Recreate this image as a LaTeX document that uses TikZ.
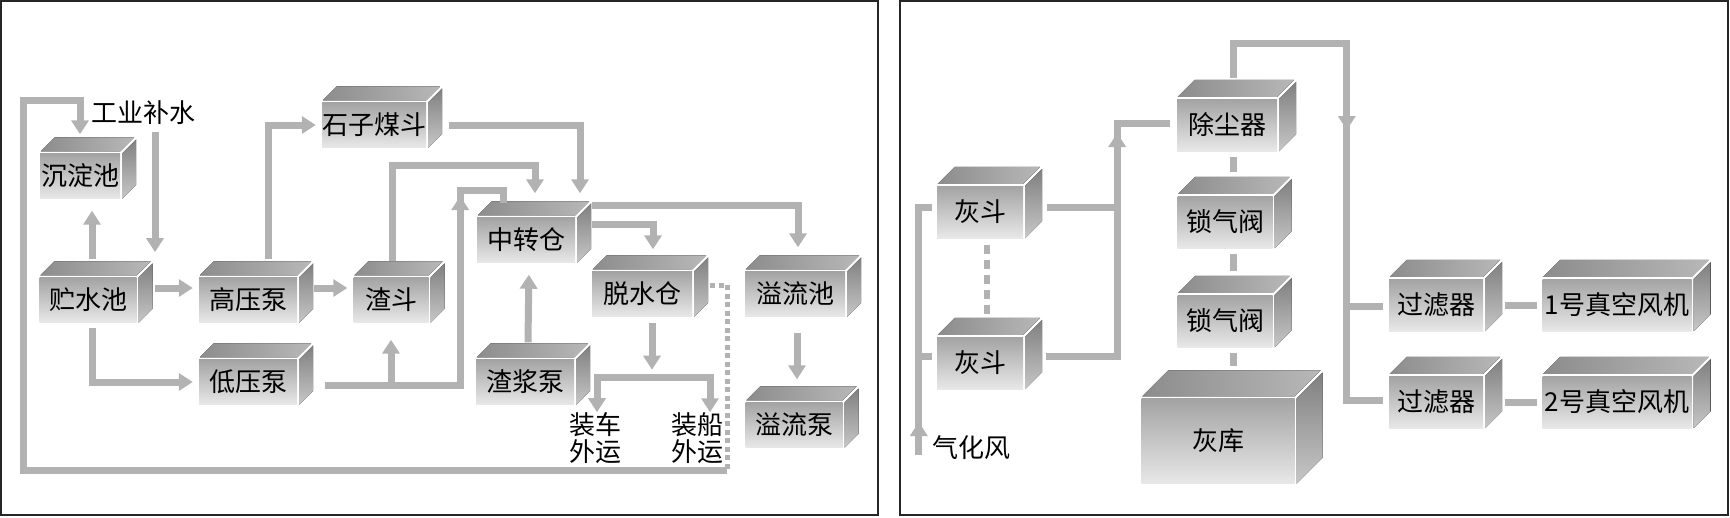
\documentclass[tikz,border=0pt]{standalone}
\usepackage{fontspec}
\newfontfamily\cjk{Noto Sans CJK SC}
\usetikzlibrary{arrows.meta, positioning}

% top and side faces of a box node
\newcommand\unitfaces[2]{%
  \fill[topface] ([shift={(1,-2)}]#1.north west) -- ++(#2,-#2)
    -- ([shift={(#2,-#2-2)}]#1.north east) -- ([shift={(0,-2)}]#1.north east) -- cycle;
  \fill[sideface] ([shift={(2,0)}]#1.north east) -- ++(#2,-#2)
    -- ([shift={(#2+2,-#2)}]#1.south east) -- ([shift={(2,0)}]#1.south east) -- cycle;
}

\begin{document}
\begin{tikzpicture}[x=1pt, y=-1pt,
    unit/.style={minimum width=#1, minimum height=45pt, inner sep=0pt,
      font=\cjk\fontsize{26}{28}\selectfont, top color=black!36, bottom color=black!9},
    unit/.default=98pt,
    tall/.style={minimum height=52pt},
    lbl/.style={inner sep=0pt, align=center, font=\cjk\fontsize{26}{27}\selectfont},
    topface/.style={left color=black!45, right color=black!28},
    sideface/.style={top color=black!50, bottom color=black!22},
    flow/.style={draw=black!30, line width=7pt},
    flowtip/.style={flow, -{Triangle[width=17pt, length=14pt]}},
    dashflow/.style={draw=black!30, line width=6pt, dash pattern=on 9pt off 6pt},
    drain/.style={draw=black!30, line width=5pt, dash pattern=on 5pt off 3.5pt}]
    \useasboundingbox (0,0) rectangle (1730,517);
    \draw[line width=2pt, black!85] (1,1) rectangle (878,515);
    \draw[line width=2pt, black!85] (900,1) rectangle (1728,515);

    % Left: nodes
    \node[unit=80pt] (cdc) at (80,176) {沉淀池};
    \node[unit=97pt] (csc) at (88,300) {贮水池};
    \node[unit] (gyb) at (248,300) {高压泵};
    \node[unit=75pt] (zd) at (391,300) {渣斗};
    \node[unit] (dyb) at (248,382) {低压泵};
    \node[unit=97pt] (szmd) at (374,125) {石子煤斗};
    \node[unit] (zzc) at (526,240) {中转仓};
    \node[unit] (zjb) at (525,382) {渣浆泵};
    \node[unit=100pt] (tsc) at (642,294) {脱水仓};
    \node[unit=100pt] (ylc) at (795,294) {溢流池};
    \node[unit=97pt] (ylb) at (794,425) {溢流泵};
    \node[lbl] (gybs) at (143,113) {工业补水};
    \node[lbl] (zcwy) at (595,438) {装车\\外运};
    \node[lbl] (zcwy2) at (697,438) {装船\\外运};

    % Right: nodes
    \node[unit=86pt, tall] (hd1) at (980,212) {灰斗};
    \node[unit=86pt, tall] (hd2) at (980,363) {灰斗};
    \node[unit=100pt, tall] (ccq) at (1227,125) {除尘器};
    \node[unit=95pt, tall] (sqf1) at (1225,222) {锁气阀};
    \node[unit=95pt, tall] (sqf2) at (1225,321) {锁气阀};
    \node[unit=153pt, minimum height=85pt] (hk) at (1218,441) {灰库};
    \node[unit=94pt, tall] (glq1) at (1436,305) {过滤器};
    \node[unit=94pt, tall] (glq2) at (1436,402) {过滤器};
    \node[unit=149pt, tall] (fj1) at (1617,305) {1号真空风机};
    \node[unit=149pt, tall] (fj2) at (1617,402) {2号真空风机};
    \node[lbl] (qhf) at (971,448) {气化风};

    \foreach \n in {cdc, csc, gyb, zd, dyb, szmd, zzc, zjb, tsc, ylc, ylb}
      {\unitfaces{\n}{14}}
    \foreach \n in {hd1, hd2, ccq, sqf1, sqf2, glq1, glq2, fj1, fj2}
      {\unitfaces{\n}{17}}
    \unitfaces{hk}{26}

    % Left: water and slag
    \draw[flowtip] ([shift={(12,7)}]gybs.south) -- ++(0,120);
    \draw[drain] ([shift={(18,-9)}]tsc.east) -- ++(17,0) -- ++(0,185) coordinate (dd);
    \draw[flowtip, shorten >=19pt] (dd) -- ++(-704,0) -- ++(0,-370) -| (cdc.north);
    \draw[flowtip, shorten >=12pt] ([shift={(4,-18)}]csc.north) -- ([xshift=4pt]csc.north |- cdc.south);
    \draw[flowtip, shorten >=6pt] ([shift={(18,-12)}]csc.east) -- ([shift={(0,-12)}]gyb.west);
    \draw[flowtip, shorten >=6pt] ([shift={(17,-12)}]gyb.east) -- ([shift={(0,-12)}]zd.west);
    \draw[flowtip, shorten >=6pt] ([shift={(4,5)}]csc.south) |- (dyb.west);
    \draw[flowtip, shorten >=6pt] ([shift={(20,-18)}]gyb.north) |- (szmd.west);
    \draw[flowtip, shorten >=24pt] ([xshift=23pt]szmd.east) -| ([xshift=54pt]zzc.north);
    \draw[flowtip, shorten >=24pt] ([shift={(1,-16)}]zd.north) -- ++(0,-96) -| ([xshift=9pt]zzc.north);
    \draw[flow] ([shift={(28,3)}]dyb.east) coordinate (lp) -- ++(135,0) -- ++(0,-195) coordinate (lb)
      -- ++(43,0) -- ++(0,13);
    \draw[flowtip] ([yshift=-40pt]lb) -- ([yshift=-6pt]lb);
    \draw[flowtip, shorten >=17pt] (zd.south |- lp) -- (zd.south);
    \draw[flowtip, shorten >=12pt] ([shift={(3,-17)}]zjb.north) -- ([xshift=3pt]zzc.south);
    \draw[flowtip, shorten >=24pt] ([shift={(17,-35)}]zzc.east) -| ([xshift=3pt]ylc.north);
    \draw[flowtip, shorten >=22pt] ([shift={(17,-16)}]zzc.east) -| ([xshift=11pt]tsc.north);
    \draw[flowtip] ([shift={(10,6)}]tsc.south) -- ++(0,47);
    \coordinate (split) at ([shift={(10,61)}]tsc.south);
    \draw[flowtip] (split) -| ([xshift=2pt]zcwy.north);
    \draw[flowtip] (split) -| ([xshift=13pt]zcwy2.north);
    \draw[flowtip, shorten >=23pt] ([shift={(2,16)}]ylc.south) -- ([xshift=2pt]ylc.south |- ylb.north);

    % Right: ash
    \draw[flow] ([shift={(-18,92)}]hd2.west) -- ([shift={(-18,-5)}]hd1.west) -- ++(13,0);
    \draw[flow] ([shift={(-18,-7)}]hd2.west) -- ++(13,0);
    \draw[flowtip] ([shift={(-18,92)}]hd2.west) -- ++(0,-33);
    \draw[flow] ([shift={(24,-5)}]hd1.east) -- ++(70,0) coordinate (hb) -- ++(0,-84)
      -- ([shift={(-7,-2)}]ccq.west);
    \draw[flowtip] (hb) -- ++(0,-74);
    \draw[flow] ([shift={(23,-7)}]hd2.east) -| (hb);
    \draw[dashflow] ([shift={(7,7)}]hd1.south) -- ([shift={(7,-19)}]hd2.north);
    \draw[flow] ([shift={(6,6)}]ccq.south) -- ([shift={(8,-24)}]sqf1.north);
    \draw[flow] ([shift={(8,6)}]sqf1.south) -- ([shift={(8,-24)}]sqf2.north);
    \draw[flow] ([shift={(8,6)}]sqf2.south) -- ([shift={(15,-32)}]hk.north);
    \draw[flow] ([shift={(6,-21)}]ccq.north) -- ++(0,-34) -| ([shift={(-42,-2)}]glq2.west)
      -- ([shift={(-6,-2)}]glq2.west);
    \draw[flow] ([shift={(-42,1)}]glq1.west) -- ([shift={(-6,1)}]glq1.west);
    \draw[flowtip] ([shift={(-42,-225)}]glq1.west) -- ++(0,50);
    \draw[flow] ([xshift=22pt]glq1.east) -- ([xshift=-5pt]fj1.west);
    \draw[flow] ([xshift=22pt]glq2.east) -- ([xshift=-5pt]fj2.west);
\end{tikzpicture}
\end{document}
